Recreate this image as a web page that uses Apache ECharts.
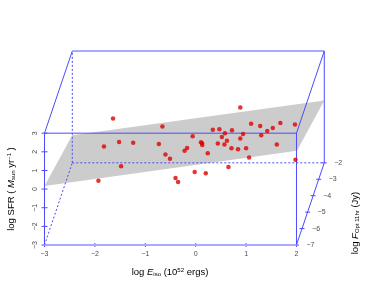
<!DOCTYPE html>
<html><head><meta charset="utf-8">
<style>html,body{margin:0;padding:0;background:#fff}#c{width:374px;height:307px}</style>
<script src="https://cdn.jsdelivr.net/npm/echarts@6/dist/echarts.min.js"></script>
</head><body><div id="c"></div>
<script>
// Scatter points, read in front-plane units (log Eiso, log SFR as projected in the picture)
const pointX = [-1.64,-0.66,-1.82,-1.52,-1.24,-0.73,-0.60,-0.51,-0.22,-0.17,-1.48,-1.93,-0.40,-0.35,
 0.885,1.10,1.28,1.68,1.97,1.53,1.42,0.34,0.47,0.72,0.58,0.94,1.30,-0.06,0.52,0.885,0.62,
 0.105,0.125,0.13,0.44,0.57,1.61,0.71,0.84,1.00,0.24,1.06,1.98,0.65,-0.02,0.20];
const pointY = [3.785,3.355,2.28,2.53,2.49,2.42,1.85,1.63,2.06,2.21,1.23,0.45,0.60,0.38,
 4.38,3.50,3.38,3.54,3.46,3.28,3.12,3.19,3.215,3.16,3.00,2.96,2.89,2.84,2.80,2.71,2.60,
 2.52,2.46,2.37,2.44,2.39,2.39,2.19,2.14,2.19,1.92,1.69,1.58,1.19,0.92,0.85];
const planeX = [-3.0,-2.45,2.55,2.01];
const planeY = [0.17,2.89,4.75,2.06];
const xTicks = [-3,-2,-1,0,1,2];
const yTicks = [-3,-2,-1,0,1,2,3];
const zTicks = [-7,-6,-5,-4,-3,-2];

const DX = 0.1103, DY = 0.882;           // oblique depth projection per F unit
const pr = (x,y,z) => [x + (z+7)*DX, y + (z+7)*DY];
const blue = '#4a4aff', pale = '#a9a9ff', grey = '#4d4d4d';
const seg = (a,b,color,width,type) => ({type:'line',data:[a,b],symbol:'none',silent:true,z:3,
  lineStyle:{color,width,type:type||'solid'},animation:false});
const tickLine = (x1,y1,x2,y2) => ({type:'line',shape:{x1,y1,x2,y2},style:{stroke:blue,lineWidth:1}});

const xMin=-3,xMax=2.552,yMin=-3,yMax=7.41;
const series=[
 {type:'custom',silent:true,z:1,animation:false,data:[0],renderItem(p,api){
   const pts=planeX.map((v,i)=>api.coord([v,planeY[i]]));
   return {type:'polygon',shape:{points:pts},style:{fill:'#cccccc'}};}},
 seg(pr(-3,-3,-2),pr(-3,3,-2),blue,1,[2,2]),
 seg(pr(-3,-3,-2),pr(2,-3,-2),blue,1,[2,2]),
 seg(pr(-3,-3,-7),pr(-3,-3,-2),blue,1,[2,2]),
 seg(pr(-3,3,-2),pr(2,3,-2),pale,2),
 seg(pr(2,-3,-2),pr(2,3,-2),blue,1),
 seg(pr(-3,3,-7),pr(-3,3,-2),blue,1),
 seg(pr(2,3,-7),pr(2,3,-2),blue,1),
 seg(pr(2,-3,-7),pr(2,-3,-2),blue,1),
 seg(pr(-3,-3,-7),pr(-3,3,-7),blue,1),
 seg(pr(2,-3,-7),pr(2,3,-7),blue,1),
 seg(pr(-3,3,-7),pr(2,3,-7),blue,1),
 seg(pr(-3,-3,-7),pr(2,-3,-7),pale,2),
 {type:'custom',silent:true,z:3,animation:false,data:xTicks,renderItem(p,api){
   const c=api.coord([xTicks[p.dataIndex],-3]);
   return tickLine(c[0],c[1]-2,c[0],c[1]+2);}},
 {type:'custom',silent:true,z:3,animation:false,data:yTicks,renderItem(p,api){
   const c=api.coord([-3,yTicks[p.dataIndex]]);
   return tickLine(c[0]-3,c[1],c[0]+3,c[1]);}},
 {type:'custom',silent:true,z:3,animation:false,data:zTicks,renderItem(p,api){
   const z=zTicks[p.dataIndex], c=api.coord(pr(2,-3,z));
   return {type:'group',children:[
     tickLine(c[0]-2.5,c[1],c[0]+2.5,c[1]),
     {type:'text',style:{x:c[0]+14,y:c[1],text:String(z).replace('-','\u2212'),fill:grey,
       font:'7px "Liberation Sans"',align:'center',verticalAlign:'middle'}}]};}},
 {type:'scatter',z:5,symbol:'circle',symbolSize:4.5,animation:false,silent:true,
  itemStyle:{color:'#e00000'},data:pointX.map((v,i)=>[v,pointY[i]])}
];
const chart=echarts.init(document.getElementById('c'),null,{renderer:'canvas'});
chart.setOption({
 animation:false,backgroundColor:'#fff',
 grid:{left:44.5,top:51,width:279.8,height:194,containLabel:false},
 xAxis:{type:'value',min:xMin,max:xMax,interval:1,splitLine:{show:false},
  axisLine:{show:false,onZero:false},axisTick:{show:false},
  axisLabel:{customValues:xTicks,margin:6,color:grey,fontSize:7,fontFamily:'Liberation Sans',
    formatter:v=>String(v).replace('-','\u2212')}},
 yAxis:{type:'value',min:yMin,max:yMax,interval:1,splitLine:{show:false},
  axisLine:{show:false,onZero:false},axisTick:{show:false},
  axisLabel:{customValues:yTicks,margin:6,rotate:90,color:grey,fontSize:7,fontFamily:'Liberation Sans',
    formatter:v=>String(v).replace('-','\u2212')}},
 graphic:[
  {type:'text',x:170,y:272,style:{text:'{n|log }{i|E}{s|iso}{n| (10}{u|52}{n| ergs)}',align:'center',verticalAlign:'middle',
    rich:lab()}},
  {type:'text',x:11,y:189,rotation:Math.PI/2,style:{text:'{n|log SFR ( }{i|M}{s|sun}{n| yr}{u|\u22121}{n| )}',align:'center',verticalAlign:'middle',
    rich:lab()}},
  {type:'text',x:355,y:223,rotation:Math.PI/2,style:{text:'{n|log }{i|F}{s|Opt 11hr}{n| (Jy)}',align:'center',verticalAlign:'middle',
    rich:lab()}}
 ],
 series
});
function lab(){const f='Liberation Sans',c='#333';return {
  n:{fontFamily:f,fontSize:9.5,color:c},
  i:{fontFamily:f,fontSize:9.5,fontStyle:'italic',color:c},
  s:{fontFamily:f,fontSize:6,color:c,verticalAlign:'bottom',padding:[4,0,0,0]},
  u:{fontFamily:f,fontSize:6,color:c,verticalAlign:'top',padding:[0,0,4,0]}};}
</script></body></html>
